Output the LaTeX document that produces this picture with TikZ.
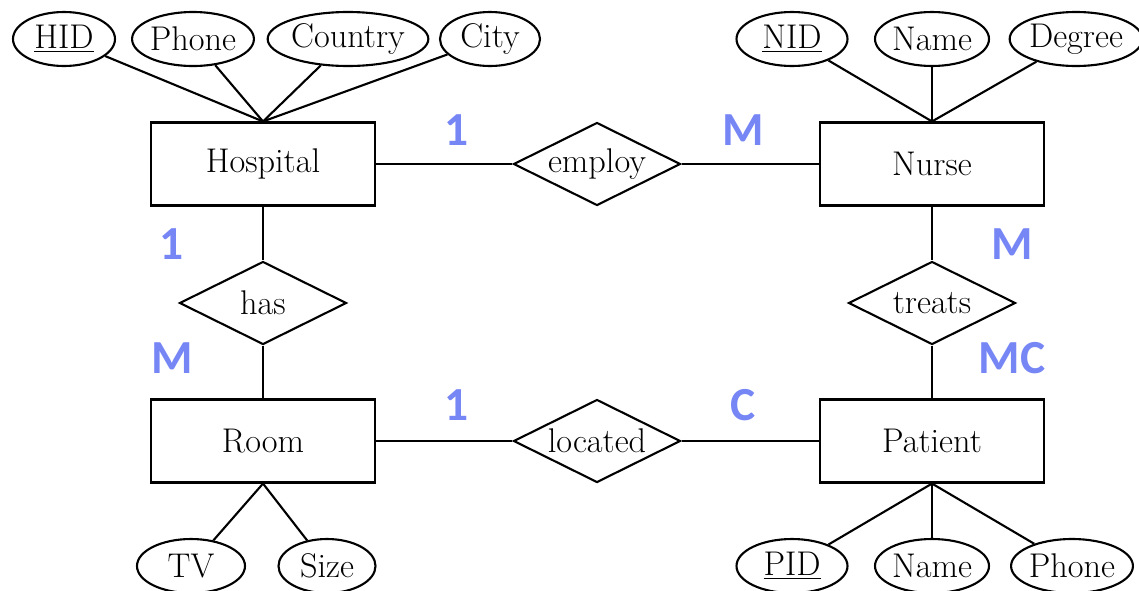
\documentclass[tikz,border=0pt]{standalone}
\usepackage{fontspec}
\newfontfamily\cardfont{Carlito}
\usetikzlibrary{shapes.geometric}
\definecolor{cardblue}{RGB}{118,134,245}

\begin{document}
\begin{tikzpicture}[
  every node/.style={font=\fontsize{19.5}{23}\selectfont},
  entity/.style={draw, line width=1.2pt, minimum width=4.48cm, minimum height=1.66cm},
  relation/.style={draw, diamond, aspect=2, inner sep=0pt, line width=1.2pt, minimum width=3.34cm, minimum height=1.66cm},
  attr/.style={draw, ellipse, inner sep=0pt, line width=1.2pt, minimum height=1.08cm},
  card/.style={text=cardblue, font=\cardfont\bfseries\fontsize{27}{31}\selectfont},
  link/.style={line width=1.2pt}
]
\useasboundingbox (0,0) rectangle (22.78,-11.8);

% Entities
\node[entity] (hospital) at (5.26,-3.28) {Hospital};
\node[entity] (nurse) at (18.64,-3.28) {Nurse};
\node[entity] (room) at (5.26,-8.82) {Room};
\node[entity] (patient) at (18.64,-8.82) {Patient};

% Relationships
\node[relation] (employ) at (11.94,-3.28) {employ};
\node[relation] (located) at (11.94,-8.82) {located};
\node[relation] (has) at (5.26,-6.06) {has};
\node[relation] (treats) at (18.64,-6.06) {treats};

\draw[link] (hospital) -- (employ) -- (nurse);
\draw[link] (room) -- (located) -- (patient);
\draw[link] (hospital) -- (has) -- (room);
\draw[link] (nurse) -- (treats) -- (patient);

% Attributes of Hospital
\foreach \name/\x/\w/\txt in {hid/1.28/2.04/\underline{HID}, hphone/3.86/2.32/Phone,
    country/6.96/3.0/Country, city/9.8/2.0/City}
{
    \node[attr, minimum width=\w cm] (\name) at (\x,-0.78) {\txt};
    \draw[link] (\name) -- (hospital.north);
}

% Attributes of Nurse
\foreach \name/\x/\w/\txt in {nid/15.84/2.22/\underline{NID}, nname/18.64/2.28/Name,
    degree/21.52/2.52/Degree}
{
    \node[attr, minimum width=\w cm] (\name) at (\x,-0.78) {\txt};
    \draw[link] (\name) -- (nurse.north);
}

% Attributes of Room
\foreach \name/\x/\w/\txt in {tv/3.82/2.16/TV, size/6.54/1.94/Size}
{
    \node[attr, minimum width=\w cm] (\name) at (\x,-11.32) {\txt};
    \draw[link] (\name) -- (room.south);
}

% Attributes of Patient
\foreach \name/\x/\w/\txt in {pid/15.84/2.22/\underline{PID}, pname/18.64/2.28/Name,
    pphone/21.44/2.34/Phone}
{
    \node[attr, minimum width=\w cm] (\name) at (\x,-11.32) {\txt};
    \draw[link] (\name) -- (patient.south);
}

% Cardinalities
\node[card] (c1) at (9.14,-2.6) {1};
\node[card] (c2) at (14.86,-2.6) {M};
\node[card] (c3) at (3.44,-4.88) {1};
\node[card] (c4) at (3.44,-7.16) {M};
\node[card] (c5) at (20.24,-4.88) {M};
\node[card] (c6) at (20.24,-7.16) {MC};
\node[card] (c7) at (9.14,-8.1) {1};
\node[card] (c8) at (14.86,-8.1) {C};
\end{tikzpicture}
\end{document}
